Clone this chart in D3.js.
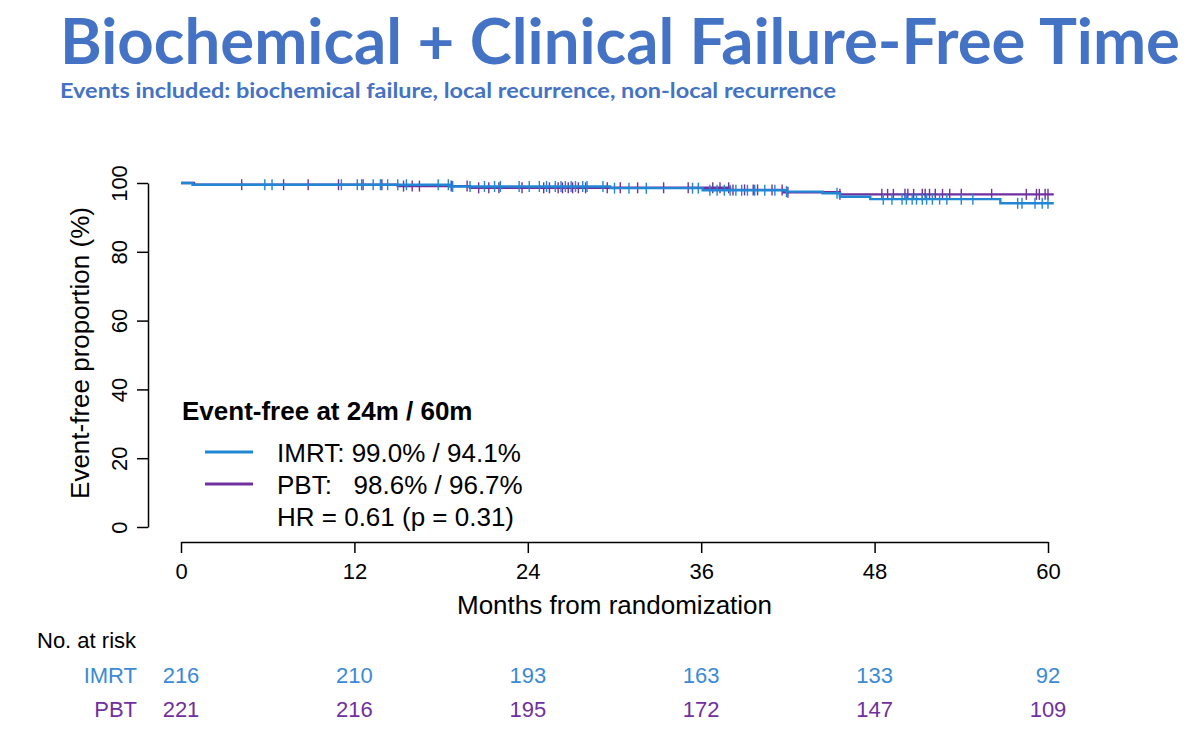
<!DOCTYPE html>
<html>
<head>
<meta charset="utf-8">
<script src="https://cdn.jsdelivr.net/npm/d3@7"></script>
<style>
  html, body { margin: 0; padding: 0; background: #fff; }
  svg { display: block; }
</style>
</head>
<body>
<div id="chart"></div>
<script>
const width = 1200;
const height = 734;

// Kaplan-Meier steps: [month, event-free %]
const imrtSteps = [[0, 100], [0.8, 99.5], [18.6, 99.0], [29.7, 98.5], [36.1, 97.9], [41.9, 97.5],
    [44.4, 97.0], [45.6, 96.0], [47.7, 95.3], [56.7, 94.1]];
const pbtSteps = [[0, 100], [0.9, 99.5], [15.0, 99.1], [20.0, 98.6], [38.0, 98.0], [41.7, 97.3],
    [45.6, 96.7]];
const followUpEnd = 60.4;

// censoring marks (months)
const imrtCensor = [5.8, 6.3, 11.1, 12.2, 12.5, 13.3, 13.8, 14.3, 15.0, 15.6, 17.8, 18.5, 18.8, 20.0,
    21.0, 21.7, 22.1, 23.4, 24.1, 24.8, 25.3, 25.9, 26.3, 26.6, 27.0, 27.3, 27.8, 28.1, 29.2, 30.0,
    31.0, 32.2, 35.4, 35.8, 36.6, 37.1, 37.6, 38.0, 38.4, 38.8, 39.2, 39.7, 40.4, 41.1, 41.9, 45.4,
    48.6, 49.2, 49.9, 50.2, 50.6, 50.9, 51.3, 51.6, 52.0, 52.5, 53.0, 54.0, 54.8, 57.9, 58.2, 59.1,
    59.6, 60.0];
const pbtCensor = [4.2, 7.1, 8.8, 10.9, 12.6, 13.9, 15.4, 16.0, 16.5, 18.7, 19.8, 20.6, 21.3, 22.0,
    23.6, 25.1, 25.5, 26.1, 26.4, 26.8, 27.1, 27.5, 28.0, 29.5, 30.4, 31.6, 33.4, 35.1, 36.8, 37.3,
    37.9, 38.2, 39.0, 39.6, 39.9, 40.9, 41.6, 42.0, 45.6, 48.5, 48.9, 49.3, 50.1, 50.3, 50.7, 51.3,
    51.5, 51.8, 52.2, 52.7, 53.2, 54.0, 56.1, 58.5, 59.2, 59.4, 59.8, 60.0];

const xTicks = [0, 12, 24, 36, 48, 60];
const yTicks = [0, 20, 40, 60, 80, 100];

const riskGroups = ["IMRT", "PBT"];
const imrtAtRisk = [216, 210, 193, 163, 133, 92];
const pbtAtRisk = [221, 216, 195, 172, 147, 109];

const legendLines = ["IMRT: 99.0% / 94.1%", "PBT:   98.6% / 96.7%"];
const legendNote = "HR = 0.61 (p = 0.31)";

const colors = { IMRT: "#2187d4", PBT: "#7030a0" };
const textBlue = "#4472c4";
const plotFont = "'Liberation Sans', Arial, sans-serif";

const svg = d3.select("#chart").append("svg")
    .attr("width", width)
    .attr("height", height);

// Titles, squeezed to the width they take in the slide
svg.append("text")
    .attr("x", 60).attr("y", 64)
    .attr("font-family", "Lato, 'Open Sans', sans-serif")
    .attr("font-weight", "bold")
    .attr("font-size", 64)
    .attr("fill", textBlue)
    .attr("textLength", 1120)
    .attr("lengthAdjust", "spacingAndGlyphs")
    .text("Biochemical + Clinical Failure-Free Time");

svg.append("text")
    .attr("x", 60).attr("y", 98)
    .attr("font-family", "Lato, 'Open Sans', sans-serif")
    .attr("font-weight", "bold")
    .attr("font-size", 20)
    .attr("fill", textBlue)
    .attr("textLength", 776)
    .attr("lengthAdjust", "spacingAndGlyphs")
    .text("Events included: biochemical failure, local recurrence, non-local recurrence");

// Scales
const x = d3.scaleLinear().domain([0, 60]).range([181, 1048]);
const y = d3.scaleLinear().domain([0, 100]).range([527, 183]);

// Axes (R base-graphics look)
const xAxis = svg.append("g")
    .attr("transform", "translate(0,542)")
    .call(d3.axisBottom(x).tickValues(xTicks).tickSize(11).tickPadding(10).tickSizeOuter(0));
xAxis.select(".domain").attr("stroke", "#000").attr("stroke-width", 1.5);
xAxis.selectAll(".tick line").attr("stroke", "#000").attr("stroke-width", 1.5);
xAxis.selectAll(".tick text")
    .attr("font-family", plotFont).attr("font-size", 22).attr("fill", "#000");

const yAxis = svg.append("g")
    .attr("transform", "translate(148,0)")
    .call(d3.axisLeft(y).tickValues(yTicks).tickSize(11).tickSizeOuter(0).tickFormat(d3.format("d")));
yAxis.select(".domain").attr("stroke", "#000").attr("stroke-width", 1.5);
yAxis.selectAll(".tick line").attr("stroke", "#000").attr("stroke-width", 1.5);
yAxis.selectAll(".tick text")
    .attr("font-family", plotFont).attr("font-size", 22).attr("fill", "#000")
    .attr("x", null).attr("dy", null)
    .attr("text-anchor", "middle")
    .attr("transform", "translate(-29,0) rotate(-90)")
    .attr("dominant-baseline", "central");

svg.append("text")
    .attr("x", x(30)).attr("y", 614)
    .attr("text-anchor", "middle")
    .attr("font-family", plotFont).attr("font-size", 26)
    .text("Months from randomization");

svg.append("text")
    .attr("transform", `translate(89,${y(50) - 2}) rotate(-90)`)
    .attr("text-anchor", "middle")
    .attr("font-family", plotFont).attr("font-size", 26)
    .text("Event-free proportion (%)");

// Survival curves
const curve = d3.line()
    .x(d => x(d[0]))
    .y(d => y(d[1]))
    .curve(d3.curveStepAfter);

function survAt(steps, t) {
    let s = steps[0][1];
    steps.forEach(d => { if (d[0] <= t) s = d[1]; });
    return s;
}

const groups = [
    { name: "PBT", steps: pbtSteps, censor: pbtCensor },
    { name: "IMRT", steps: imrtSteps, censor: imrtCensor }
];

groups.forEach(g => {
    const pts = g.steps.concat([[followUpEnd, g.steps[g.steps.length - 1][1]]]);
    svg.append("path")
        .datum(pts)
        .attr("d", curve)
        .attr("fill", "none")
        .attr("stroke", colors[g.name])
        .attr("stroke-width", 2.4);

    svg.append("g")
        .selectAll("line")
        .data(g.censor)
        .join("line")
        .attr("x1", d => x(d)).attr("x2", d => x(d))
        .attr("y1", d => y(survAt(g.steps, d)) - 5.5)
        .attr("y2", d => y(survAt(g.steps, d)) + 5.5)
        .attr("stroke", colors[g.name])
        .attr("stroke-width", 1.4);
});

// Legend
const legend = svg.append("g").attr("font-family", plotFont).attr("font-size", 26);
legend.append("text")
    .attr("x", 182).attr("y", 420)
    .attr("font-weight", "bold")
    .text("Event-free at 24m / 60m");

legend.selectAll("line.key")
    .data(riskGroups)
    .join("line")
    .attr("class", "key")
    .attr("x1", 205).attr("x2", 253)
    .attr("y1", (d, i) => 452 + i * 32)
    .attr("y2", (d, i) => 452 + i * 32)
    .attr("stroke", d => colors[d])
    .attr("stroke-width", 3);

legend.selectAll("text.entry")
    .data(legendLines.concat([legendNote]))
    .join("text")
    .attr("class", "entry")
    .attr("x", 277)
    .attr("y", (d, i) => 462 + i * 32)
    .style("white-space", "pre")
    .text(d => d);

// Number at risk table
const risk = svg.append("g").attr("font-family", plotFont).attr("font-size", 22);
risk.append("text")
    .attr("x", 37).attr("y", 648)
    .text("No. at risk");

[imrtAtRisk, pbtAtRisk].forEach((counts, i) => {
    const name = riskGroups[i];
    const rowY = 683 + i * 34;
    risk.append("text")
        .attr("x", 137).attr("y", rowY)
        .attr("text-anchor", "end")
        .attr("fill", name === "IMRT" ? "#3a8ad6" : "#7030a0")
        .text(name);
    risk.selectAll(`text.n${name}`)
        .data(counts)
        .join("text")
        .attr("class", `n${name}`)
        .attr("x", (d, j) => x(xTicks[j]))
        .attr("y", rowY)
        .attr("text-anchor", "middle")
        .attr("fill", name === "IMRT" ? "#3a8ad6" : "#7030a0")
        .text(d => d);
});
</script>
</body>
</html>
